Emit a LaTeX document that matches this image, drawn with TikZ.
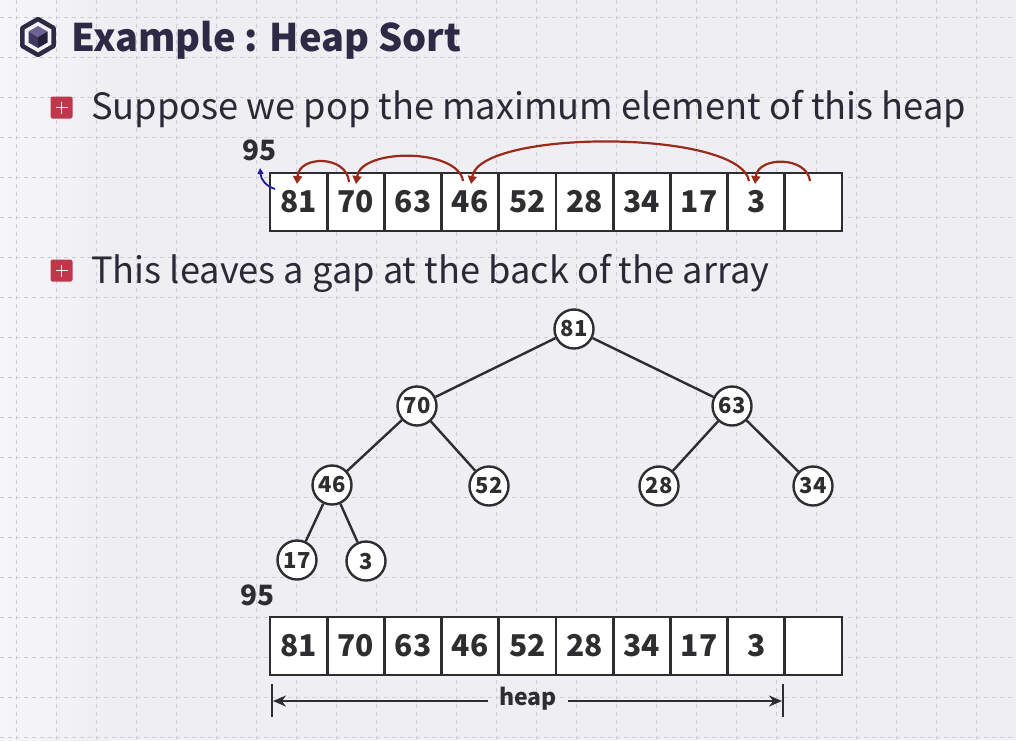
\documentclass[tikz,border=0pt]{standalone}
\usepackage{fontspec}
\setmainfont{Noto Sans CJK KR}
\usetikzlibrary{arrows.meta,calc}
\definecolor{bg}{HTML}{EFEFF3}
\definecolor{bglight}{HTML}{F6F6F9}
\definecolor{gridc}{HTML}{CDCDD6}
\definecolor{ink}{HTML}{2A2A36}
\definecolor{cellink}{HTML}{2E2E30}
\definecolor{bulletred}{HTML}{C0364A}
\definecolor{arcred}{HTML}{9A2A1A}
\definecolor{pushblue}{HTML}{1C1C9C}
\definecolor{hexink}{HTML}{2E2A45}
\definecolor{cubetop}{HTML}{6E6392}
\definecolor{cubeleft}{HTML}{3F3860}
\definecolor{cuberight}{HTML}{241F3A}
\tikzset{
  gridline/.style={gridc, line width=1pt, dash pattern=on 4pt off 4pt},
  bulletbox/.style={fill=bulletred, rounded corners=2pt, minimum size=22pt, inner sep=0pt},
  bullettext/.style={anchor=base west, text=ink, font=\fontsize{36.2}{40}\selectfont, inner sep=0pt},
  cell/.style={draw=cellink, fill=white, line width=2.8pt, minimum width=57.2pt, minimum height=58pt,
    inner sep=0pt, text=cellink, font=\fontsize{30}{34}\selectfont\bfseries},
  heapnode/.style={circle, draw=cellink, fill=white, line width=2.4pt, minimum size=39pt, inner sep=0pt,
    text=cellink, font=\fontsize{22}{24}\selectfont\bfseries},
  edge/.style={cellink, line width=2.4pt},
  moved/.style={arcred, line width=2.2pt, -{Triangle[length=8pt,width=9pt]}},
  popped/.style={anchor=base west, text=cellink, font=\fontsize{28}{30}\selectfont\bfseries, inner sep=0pt},
  span/.style={cellink, line width=2.2pt, -{Stealth[length=13pt,width=11pt]}},
}
\begin{document}
\begin{tikzpicture}[x=1pt,y=-1pt]
  % page background, lighter towards the left edge, and dashed grid
  \fill[bg] (0,0) rectangle (1016,740);
  \useasboundingbox (0,0) rectangle (1016,740);
  \shade[left color=bglight, right color=bg] (0,0) rectangle (110,740);
  \foreach \x in {16,56,...,1016} \draw[gridline] (\x,0) -- (\x,740);
  \foreach \y in {17,57,...,737} \draw[gridline] (0,\y) -- (1016,\y);

  % title icon: hexagon frame with a small cube
  \draw[hexink, line width=4.5pt, line join=round]
    (38,19) -- (53.6,28) -- (53.6,46) -- (38,55) -- (22.4,46) -- (22.4,28) -- cycle;
  \fill[cubetop]   (38,26) -- (47.5,31.5) -- (38,37) -- (28.5,31.5) -- cycle;
  \fill[cubeleft]  (28.5,31.5) -- (38,37) -- (38,48) -- (28.5,42.5) -- cycle;
  \fill[cuberight] (38,37) -- (47.5,31.5) -- (47.5,42.5) -- (38,48) -- cycle;
  \node[anchor=base west, inner sep=0pt, text=hexink, font=\fontsize{38}{42}\selectfont\bfseries]
    (title) at (71,51) {Example : Heap Sort};

  % bullets
  \node[bulletbox] (b1) at (61.5,107.5) {};
  \draw[white, line width=1.8pt] ($(b1.center)+(-6,0)$) -- ($(b1.center)+(6,0)$);
  \draw[white, line width=1.8pt] ($(b1.center)+(0,-6)$) -- ($(b1.center)+(0,6)$);
  \node[bullettext] (t1) at (91,119) {Suppose we pop the maximum element of this heap};
  \node[bulletbox] (b2) at (61.5,270.5) {};
  \draw[white, line width=1.8pt] ($(b2.center)+(-6,0)$) -- ($(b2.center)+(6,0)$);
  \draw[white, line width=1.8pt] ($(b2.center)+(0,-6)$) -- ($(b2.center)+(0,6)$);
  \node[bullettext] (t2) at (91,283) {This leaves a gap at the back of the array};

  % upper array
  \foreach \v [count=\i from 0] in {81,70,63,46,52,28,34,17,3,{}}
    \node[cell] (u\i) at (298.6+57.2*\i,202) {\v};
  \node[popped] (pu) at (242,160) {95};

  % percolation arcs
  \coordinate (aS) at (349,182); \coordinate (aE) at (297,184);
  \coordinate (bS) at (463,181); \coordinate (bE) at (356,184);
  \coordinate (cS) at (749,181); \coordinate (cE) at (471,184);
  \coordinate (dS) at (810,181); \coordinate (dE) at (755,184);
  \draw[moved] (aS) .. controls (347,155) and (299,155) .. (aE);
  \draw[moved] (bS) .. controls (458,148) and (361,148) .. (bE);
  \draw[moved] (cS) .. controls (740,129) and (480,129) .. (cE);
  \draw[moved] (dS) .. controls (807,156) and (758,156) .. (dE);

  % popped value leaves the root
  \coordinate (pS) at (275,189); \coordinate (pE) at (260,168);
  \draw[pushblue, line width=1.8pt, -{Triangle[length=6pt,width=6pt]}]
    (pS) .. controls (266,186) and (261,180) .. (pE);

  % heap as a tree
  \node[heapnode] (n81) at (574,329) {81};
  \node[heapnode] (n70) at (417,406) {70};
  \node[heapnode] (n63) at (732,406) {63};
  \node[heapnode] (n46) at (332,485) {46};
  \node[heapnode] (n52) at (489,486) {52};
  \node[heapnode] (n28) at (659,486) {28};
  \node[heapnode] (n34) at (813,486) {34};
  \node[heapnode] (n17) at (297,560) {17};
  \node[heapnode] (n3)  at (366,561) {3};
  \draw[edge] (n81) -- (n70);
  \draw[edge] (n81) -- (n63);
  \draw[edge] (n70) -- (n46);
  \draw[edge] (n70) -- (n52);
  \draw[edge] (n63) -- (n28);
  \draw[edge] (n63) -- (n34);
  \draw[edge] (n46) -- (n17);
  \draw[edge] (n46) -- (n3);

  % lower array
  \foreach \v [count=\i from 0] in {81,70,63,46,52,28,34,17,3,{}}
    \node[cell] (l\i) at (298.6+57.2*\i,646) {\v};
  \node[popped] (pl) at (240,605) {95};

  % extent of the heap
  \coordinate (hL) at (273,701); \coordinate (hR) at (782,701);
  \draw[cellink, line width=2.4pt] (272,684) -- (272,717);
  \draw[cellink, line width=2.4pt] (783,684) -- (783,717);
  \node[text=cellink, font=\fontsize{23}{26}\selectfont\bfseries, inner xsep=11pt, inner ysep=0pt] (hp) at (528,699) {heap};
  \draw[span] (hp.west |- hL) -- (hL);
  \draw[span] (hp.east |- hR) -- (hR);
\end{tikzpicture}
\end{document}
